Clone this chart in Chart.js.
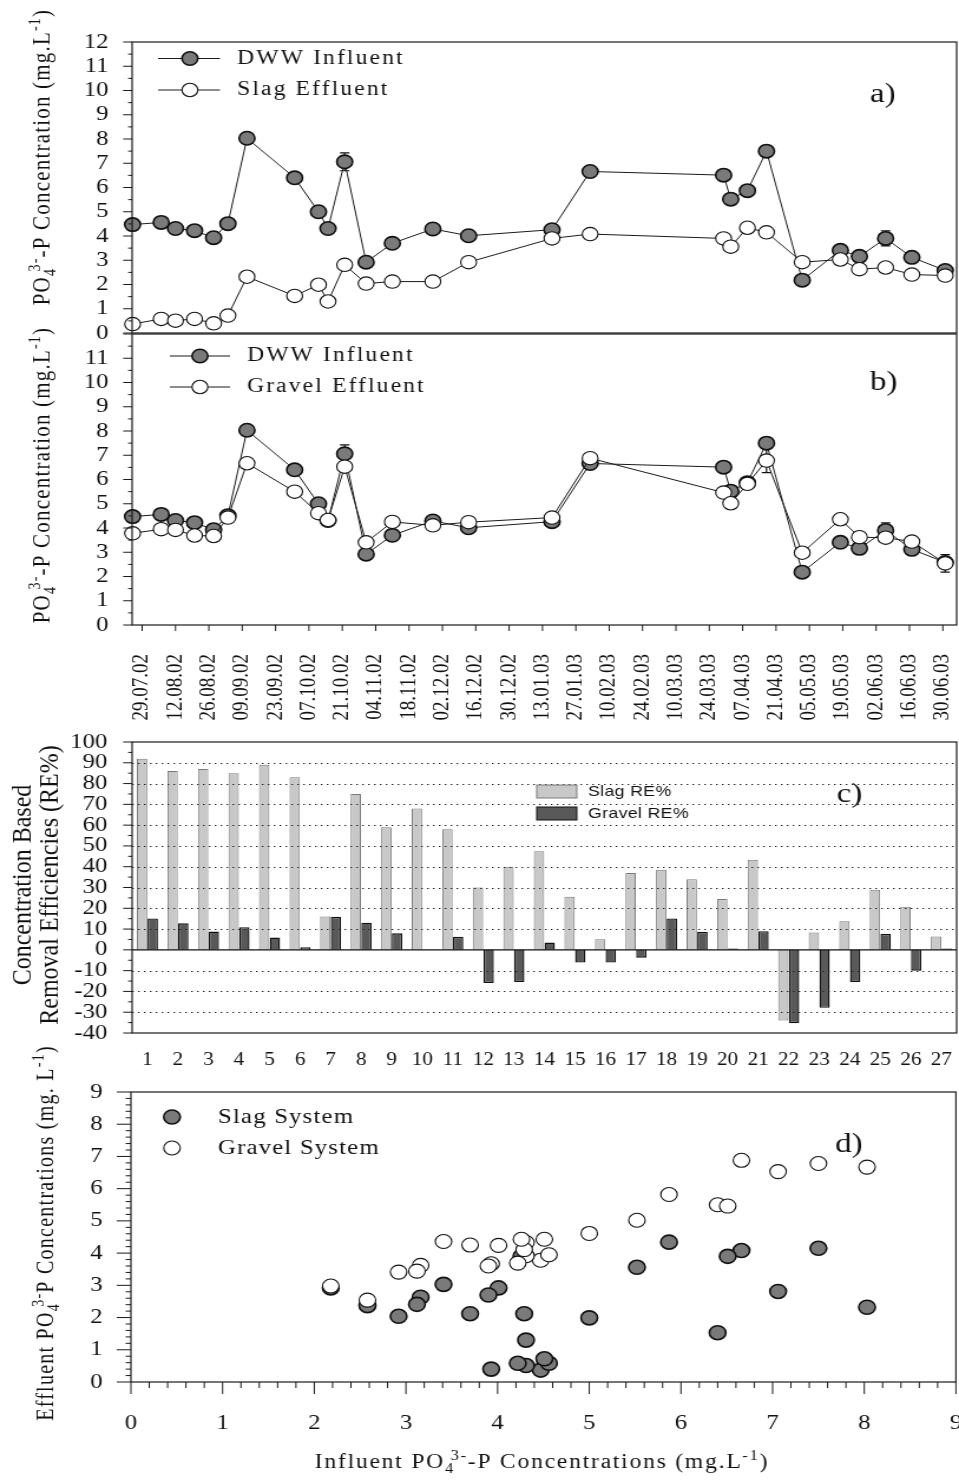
<!DOCTYPE html>
<html>
<head>
<meta charset="utf-8">
<title>PO4-P removal in slag and gravel systems</title>
<script src="https://cdn.jsdelivr.net/npm/chart.js@4.4.1/dist/chart.umd.min.js"></script>
<style>
  html, body { margin: 0; padding: 0; background: #fff; }
  body { position: relative; width: 959px; height: 1482px; overflow: hidden; }
  canvas { position: absolute; left: 0; }
</style>
</head>
<body>
<canvas id="panelA" width="813" height="345" style="top:0px;width:959px;height:345px"></canvas>
<canvas id="panelB" width="813" height="420" style="top:320px;width:959px;height:420px"></canvas>
<canvas id="panelC" width="813" height="350" style="top:730px;width:959px;height:350px"></canvas>
<canvas id="panelD" width="813" height="452" style="top:1030px;width:959px;height:452px"></canvas>
<script>
// ---- sampling campaign (dd.mm.yy) ----
const sampleDates = ['25.07.02','06.08.02','12.08.02','20.08.02','28.08.02','03.09.02','11.09.02',
  '01.10.02','11.10.02','15.10.02','22.10.02','31.10.02','11.11.02','28.11.02','13.12.02',
  '17.01.03','02.02.03','30.03.03','02.04.03','09.04.03','17.04.03','02.05.03','18.05.03',
  '26.05.03','06.06.03','17.06.03','01.07.03'];

const dateTicks = ['29.07.02','12.08.02','26.08.02','09.09.02','23.09.02','07.10.02','21.10.02',
  '04.11.02','18.11.02','02.12.02','16.12.02','30.12.02','13.01.03','27.01.03','10.02.03',
  '24.02.03','10.03.03','24.03.03','07.04.03','21.04.03','05.05.03','19.05.03','02.06.03',
  '16.06.03','30.06.03'];

// PO4(3-)-P concentrations, mg/L
const dwwInfluent = [4.47,4.56,4.31,4.22,3.93,4.51,8.03,6.40,5.00,4.31,7.06,2.92,3.70,4.29,4.01,
  4.26,6.66,6.51,5.52,5.87,7.50,2.18,3.41,3.16,3.90,3.12,2.58];
const slagEffluent = [0.37,0.58,0.51,0.58,0.40,0.72,2.32,1.53,1.99,1.30,2.81,2.04,2.12,2.12,2.92,
  3.90,4.08,3.90,3.56,4.34,4.15,2.92,3.03,2.63,2.70,2.41,2.37];
const gravelEffluent = [3.78,3.95,3.92,3.69,3.67,4.43,6.67,5.50,4.61,4.33,6.53,3.41,4.25,4.11,4.24,
  4.43,6.88,5.46,5.02,5.82,6.78,2.98,4.36,3.62,3.60,3.44,2.54];

// standard deviations (0 = not drawn)
const influentSD = [0,0,0,0,0,0,0,0,0,0,0.37,0,0,0,0,0,0,0,0,0,0,0,0,0,0.31,0,0];
const gravelSD   = [0,0,0,0,0,0,0,0,0,0,0,0,0,0,0,0,0,0,0,0,0.5,0,0,0,0,0,0.36];

// concentration based removal efficiencies, %
const runNumbers = ['1','2','3','4','5','6','7','8','9','10','11','12','13','14','15','16','17',
  '18','19','20','21','22','23','24','25','26','27'];
const slagRE = [92,86,87,85,89,83,16,75,59,68,58,30,40,47.5,25.6,5.1,37,38.5,34,24.5,43.4,-34,
  8.3,13.8,28.9,20.7,6.4];
const gravelRE = [15.1,12.8,8.8,10.9,5.9,1.3,15.9,13.1,8,0,6.3,-16,-15.5,3.5,-6.1,-6.1,-3.8,15.1,
  8.7,0.7,9,-35.3,-27.9,-15.5,7.7,-10,0.6];

// ---- helpers ----
const SERIF = '"Liberation Serif", "Times New Roman", Times, serif';
const SANS = '"Liberation Sans", Arial, sans-serif';

const parseDate = s => { const [d, m, y] = s.split('.').map(Number); return Date.UTC(2000 + y, m - 1, d); };
const ORIGIN = parseDate(dateTicks[0]);
const toDay = s => (parseDate(s) - ORIGIN) / 864e5;
const sampleDays = sampleDates.map(toDay);
const tickDays = dateTicks.map(toDay);
const series = arr => arr.map((v, i) => ({ x: sampleDays[i], y: v }));

const fixW = w => s => { s.width = w; s.paddingTop = 0; s.paddingBottom = 0; };
const fixH = h => s => { s.height = h; s.paddingLeft = 0; s.paddingRight = 0; };

Chart.defaults.font.family = SERIF;
Chart.defaults.color = '#111';
Chart.defaults.animation = false;
Chart.defaults.responsive = false;
Chart.defaults.plugins.legend.display = false;
Chart.defaults.plugins.tooltip.enabled = false;

// rich text: plain strings plus {sub, sup} pieces
function richParts(ctx, parts, size, family, x, y, draw) {
  let cx = x;
  const small = Math.round(size * 0.68);
  for (const p of parts) {
    if (typeof p === 'string') {
      ctx.font = `${size}px ${family}`;
      if (draw) ctx.fillText(p, cx, y);
      cx += ctx.measureText(p).width;
    } else {
      ctx.font = `${small}px ${family}`;
      let w = 0;
      if (p.sub) {
        if (draw) ctx.fillText(p.sub, cx, y + size * 0.24);
        w = ctx.measureText(p.sub).width;
      }
      if (p.sup) {
        const off = w * 0.55;
        if (draw) ctx.fillText(p.sup, cx + off, y - size * 0.42);
        w = Math.max(w, off + ctx.measureText(p.sup).width);
      }
      cx += w;
    }
  }
  return cx - x;
}

function drawLabel(ctx, o) {
  ctx.save();
  ctx.fillStyle = o.color || '#111';
  ctx.textBaseline = o.baseline || 'alphabetic';
  ctx.textAlign = 'left';
  ctx.letterSpacing = (o.spacing || 0) + 'px';
  ctx.translate(o.x, o.y);
  if (o.rotate) ctx.rotate(-Math.PI / 2);
  const fam = o.family || SERIF;
  const w = richParts(ctx, o.parts, o.size, fam, 0, 0, false);
  richParts(ctx, o.parts, o.size, fam, o.align === 'center' ? -w / 2 : 0, 0, true);
  ctx.restore();
}

function drawAxisTicks(ctx, scale, a, spec, side) {
  const marks = [];
  if (spec.values) {
    spec.values.forEach(v => marks.push([v, spec.majorLen]));
  } else {
    for (let k = 0; ; k++) {
      const v = scale.min + k * spec.minor;
      if (v > scale.max + 1e-9) break;
      const r = v / spec.major;
      marks.push([v, Math.abs(r - Math.round(r)) < 1e-6 ? spec.majorLen : spec.minorLen]);
    }
  }
  ctx.beginPath();
  marks.forEach(([v, len]) => {
    const p = scale.getPixelForValue(v);
    if (side === 'left') { ctx.moveTo(a.left - len, p); ctx.lineTo(a.left, p); }
    else { ctx.moveTo(p, a.bottom); ctx.lineTo(p, a.bottom + len); }
  });
  ctx.stroke();
}

const panelDecor = {
  id: 'panelDecor',
  beforeDatasetsDraw(chart, args, opts) {
    const { ctx } = chart;
    (opts.errorBars || []).forEach(({ datasetIndex, errors }) => {
      const meta = chart.getDatasetMeta(datasetIndex);
      const ys = chart.scales[meta.yAxisID];
      const values = chart.data.datasets[datasetIndex].data;
      ctx.save();
      ctx.strokeStyle = '#111';
      ctx.lineWidth = 1.2;
      meta.data.forEach((el, i) => {
        const e = errors[i];
        if (!e) return;
        const v = values[i].y;
        const top = ys.getPixelForValue(v + e), bot = ys.getPixelForValue(v - e);
        ctx.beginPath();
        ctx.moveTo(el.x, top); ctx.lineTo(el.x, bot);
        ctx.moveTo(el.x - 4, top); ctx.lineTo(el.x + 4, top);
        ctx.moveTo(el.x - 4, bot); ctx.lineTo(el.x + 4, bot);
        ctx.stroke();
      });
      ctx.restore();
    });
  },
  afterDatasetsDraw(chart, args, opts) {
    if (!opts.dottedGrid) return;
    const { ctx, chartArea: a } = chart;
    const ys = chart.scales.y;
    ctx.save();
    ctx.strokeStyle = '#222';
    ctx.lineWidth = 1;
    ctx.setLineDash([1.4, 3.6]);
    ys.ticks.forEach(t => {
      if (t.value === ys.min || t.value === ys.max || t.value === 0) return;
      const y = Math.round(ys.getPixelForValue(t.value)) + 0.5;
      ctx.beginPath(); ctx.moveTo(a.left, y); ctx.lineTo(a.right, y); ctx.stroke();
    });
    ctx.setLineDash([]);
    const y0 = ys.getPixelForValue(0);
    ctx.strokeStyle = '#111';
    ctx.lineWidth = 1.3;
    ctx.beginPath(); ctx.moveTo(a.left, y0); ctx.lineTo(a.right, y0); ctx.stroke();
    ctx.restore();
  },
  afterDraw(chart, args, opts) {
    const { ctx, chartArea: a } = chart;
    ctx.save();
    ctx.strokeStyle = '#1a1a1a';
    ctx.lineWidth = 1.2;
    ctx.strokeRect(a.left, a.top, a.right - a.left, a.bottom - a.top);
    ctx.lineWidth = 1;
    if (opts.yTicks) drawAxisTicks(ctx, chart.scales.y, a, opts.yTicks, 'left');
    if (opts.xTicks) drawAxisTicks(ctx, chart.scales.x, a, opts.xTicks, 'bottom');

    (opts.legend || []).forEach(item => {
      const ds = chart.data.datasets[item.datasetIndex];
      if (item.line) {
        ctx.strokeStyle = ds.borderColor;
        ctx.lineWidth = ds.borderWidth;
        ctx.beginPath(); ctx.moveTo(item.line[0], item.y); ctx.lineTo(item.line[1], item.y); ctx.stroke();
      }
      if (item.marker !== undefined) {
        ctx.beginPath();
        ctx.arc(item.marker, item.y, ds.pointRadius, 0, Math.PI * 2);
        ctx.fillStyle = ds.pointBackgroundColor;
        ctx.fill();
        ctx.strokeStyle = ds.pointBorderColor;
        ctx.lineWidth = ds.pointBorderWidth;
        ctx.stroke();
      }
      if (item.box) {
        ctx.fillStyle = ds.backgroundColor;
        ctx.fillRect(...item.box);
        ctx.strokeStyle = ds.borderColor;
        ctx.lineWidth = 1;
        ctx.strokeRect(...item.box);
      }
      drawLabel(ctx, { parts: [ds.label], x: item.textX, y: item.y, baseline: 'middle',
        size: opts.legendFont.size, family: opts.legendFont.family, spacing: opts.legendFont.spacing });
    });
    (opts.labels || []).forEach(l => drawLabel(ctx, l));
    ctx.restore();
  }
};

// ---- shared styles ----
const influentStyle = {
  borderColor: '#1a1a1a', borderWidth: 1, tension: 0, clip: false,
  pointRadius: 6.7, pointBackgroundColor: '#7a7a7a', pointBorderColor: '#111', pointBorderWidth: 1.6
};
const effluentStyle = {
  borderColor: '#1a1a1a', borderWidth: 1, tension: 0, clip: false,
  pointRadius: 6.7, pointBackgroundColor: '#ffffff', pointBorderColor: '#111', pointBorderWidth: 1.1
};
const X_RANGE = { min: -4.2, max: 341.8 };
const concYTitle = ['PO', { sub: '4', sup: '3-' }, '-P Concentration (mg.L', { sup: '-1' }, ')'];
const legendSerif = { size: 20, family: SERIF, spacing: 1.8 };
const concTicks = { stepSize: 1, autoSkip: false, padding: 20, font: { size: 21 } };

// ---- a) slag system ----
new Chart(document.getElementById('panelA'), {
  type: 'line',
  data: { datasets: [
    { label: 'DWW Influent', data: series(dwwInfluent), ...influentStyle, order: 1 },
    { label: 'Slag Effluent', data: series(slagEffluent), ...effluentStyle, order: 0 }
  ] },
  options: {
    layout: { padding: { left: 0, right: 2, top: 42, bottom: 12 }, autoPadding: false },
    scales: {
      x: { type: 'linear', ...X_RANGE, display: false },
      y: { min: 0, max: 12, afterFit: fixW(112),
        grid: { display: false, drawTicks: false }, border: { display: false },
        ticks: concTicks }
    },
    plugins: { panelDecor: {
      errorBars: [{ datasetIndex: 0, errors: influentSD }],
      yTicks: { major: 1, minor: 0.5, majorLen: 7.6, minorLen: 3.4 },
      legendFont: legendSerif,
      legend: [
        { datasetIndex: 0, line: [134, 186.5], marker: 161, textX: 201, y: 58.5 },
        { datasetIndex: 1, line: [134, 186.5], marker: 161, textX: 201, y: 90 }
      ],
      labels: [
        { parts: concYTitle, x: 42.4, y: 157, size: 21, spacing: 1.2, rotate: true, align: 'center' },
        { parts: ['a)'], x: 737.5, y: 95, size: 28, baseline: 'middle' }
      ]
    } }
  },
  plugins: [panelDecor]
});

// ---- b) gravel system ----
new Chart(document.getElementById('panelB'), {
  type: 'line',
  data: { datasets: [
    { label: 'DWW Influent', data: series(dwwInfluent), ...influentStyle, order: 1 },
    { label: 'Gravel Effluent', data: series(gravelEffluent), ...effluentStyle, order: 0 }
  ] },
  options: {
    layout: { padding: { left: 0, right: 2, top: 14, bottom: 0 }, autoPadding: false },
    scales: {
      x: { type: 'linear', ...X_RANGE, afterFit: fixH(115),
        afterBuildTicks: s => { s.ticks = tickDays.map(v => ({ value: v })); },
        grid: { display: false, drawTicks: false }, border: { display: false },
        ticks: { autoSkip: false, minRotation: 90, maxRotation: 90, padding: 29, font: { size: 19 },
          callback: v => dateTicks[tickDays.indexOf(v)] } },
      y: { min: 0, max: 12, afterFit: fixW(112),
        grid: { display: false, drawTicks: false }, border: { display: false },
        ticks: { ...concTicks, callback: v => (v === 12 ? '' : v) } }
    },
    plugins: { panelDecor: {
      errorBars: [{ datasetIndex: 0, errors: influentSD }, { datasetIndex: 1, errors: gravelSD }],
      yTicks: { major: 1, minor: 0.5, majorLen: 7.6, minorLen: 3.4 },
      xTicks: { values: tickDays, majorLen: 6 },
      legendFont: legendSerif,
      legend: [
        { datasetIndex: 0, line: [144, 195], marker: 169.5, textX: 209.4, y: 36 },
        { datasetIndex: 1, line: [144, 195], marker: 169.5, textX: 209.4, y: 67 }
      ],
      labels: [
        { parts: concYTitle, x: 42.4, y: 155, size: 21, spacing: 1.2, rotate: true, align: 'center' },
        { parts: ['b)'], x: 737.5, y: 63, size: 28, baseline: 'middle' }
      ]
    } }
  },
  plugins: [panelDecor]
});

// ---- c) removal efficiencies ----
new Chart(document.getElementById('panelC'), {
  type: 'bar',
  data: { labels: runNumbers, datasets: [
    { label: 'Slag RE%', data: slagRE, backgroundColor: '#c8c8c8', borderColor: '#7a7a7a', borderWidth: 1 },
    { label: 'Gravel RE%', data: gravelRE, backgroundColor: '#595959', borderColor: '#111', borderWidth: 1.4 }
  ] },
  options: {
    datasets: { bar: { categoryPercentage: 0.7, barPercentage: 0.97 } },
    layout: { padding: { left: 0, right: 2, top: 12, bottom: 0 }, autoPadding: false },
    scales: {
      x: { afterFit: fixH(47), grid: { display: false, drawTicks: false }, border: { display: false },
        ticks: { autoSkip: false, maxRotation: 0, padding: 16, font: { size: 18 } } },
      y: { min: -40, max: 100, afterFit: fixW(112),
        grid: { display: false, drawTicks: false }, border: { display: false },
        ticks: { stepSize: 10, autoSkip: false, padding: 21, font: { size: 21 } } }
    },
    plugins: { panelDecor: {
      dottedGrid: true,
      yTicks: { major: 10, minor: 5, majorLen: 7.6, minorLen: 3.4 },
      legendFont: { size: 15, family: SANS, spacing: 0.3 },
      legend: [
        { datasetIndex: 0, box: [455, 55, 34, 13], textX: 498.5, y: 61.5 },
        { datasetIndex: 1, box: [455, 77, 34, 13], textX: 498.5, y: 83.5 }
      ],
      labels: [
        { parts: ['Concentration Based'], x: 25.5, y: 155, size: 24, rotate: true, align: 'center' },
        { parts: ['Removal Efficiencies (RE%)'], x: 48.5, y: 155, size: 24, rotate: true, align: 'center' },
        { parts: ['c)'], x: 709.3, y: 65, size: 28, baseline: 'middle' }
      ]
    } }
  },
  plugins: [panelDecor]
});

// ---- d) effluent versus influent ----
new Chart(document.getElementById('panelD'), {
  type: 'scatter',
  data: { datasets: [
    { label: 'Gravel System', data: dwwInfluent.map((x, i) => ({ x, y: gravelEffluent[i] })), clip: false,
      pointRadius: 7, pointBackgroundColor: '#ffffff', pointBorderColor: '#111', pointBorderWidth: 1.1, order: 0 },
    { label: 'Slag System', data: dwwInfluent.map((x, i) => ({ x, y: slagEffluent[i] })), clip: false,
      pointRadius: 7, pointBackgroundColor: '#7a7a7a', pointBorderColor: '#111', pointBorderWidth: 1.6, order: 1 }
  ] },
  options: {
    layout: { padding: { left: 0, right: 2.6, top: 62, bottom: 0 }, autoPadding: false },
    scales: {
      x: { type: 'linear', min: 0, max: 9, afterFit: fixH(100),
        grid: { display: false, drawTicks: false }, border: { display: false },
        ticks: { stepSize: 1, autoSkip: false, padding: 29, font: { size: 21 } } },
      y: { min: 0, max: 9, afterFit: fixW(111),
        grid: { display: false, drawTicks: false }, border: { display: false },
        ticks: { stepSize: 1, autoSkip: false, padding: 24, font: { size: 21 } } }
    },
    plugins: { panelDecor: {
      yTicks: { major: 1, minor: 0.2, majorLen: 12, minorLen: 4.5 },
      xTicks: { major: 1, minor: 0.2, majorLen: 12, minorLen: 6 },
      legendFont: { size: 21, family: SERIF, spacing: 1 },
      legend: [
        { datasetIndex: 1, marker: 145.8, textX: 184.8, y: 87 },
        { datasetIndex: 0, marker: 145.8, textX: 184.8, y: 118 }
      ],
      labels: [
        { parts: ['Effluent PO', { sub: '4', sup: '3-' }, 'P Concentrations (mg. L', { sup: '-1' }, ')'],
          x: 45, y: 203, size: 20, spacing: 1.25, rotate: true, align: 'center' },
        { parts: ['Influent PO', { sub: '4', sup: '3-' }, '-P Concentrations (mg.L', { sup: '-1' }, ')'],
          x: 459.5, y: 438, size: 20, spacing: 1.5, align: 'center' },
        { parts: ['d)'], x: 708, y: 115, size: 28, baseline: 'middle' }
      ]
    } }
  },
  plugins: [panelDecor]
});
</script>
</body>
</html>
